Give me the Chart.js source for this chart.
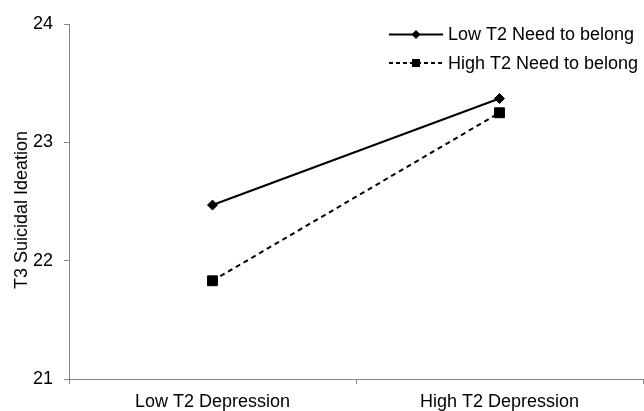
<!DOCTYPE html>
<html>
<head>
<meta charset="utf-8">
<script src="https://cdn.jsdelivr.net/npm/chart.js@4"></script>
<style>
  html, body { margin: 0; padding: 0; background: #fff; }
  #c { display: block; }
</style>
</head>
<body>
<canvas id="c" width="644" height="411"></canvas>
<script>
const categories = ["Low T2 Depression", "High T2 Depression"];
const lowBelong = [22.47, 23.37];
const highBelong = [21.83, 23.25];
const seriesLabels = ["Low T2 Need to belong", "High T2 Need to belong"];
const yTicks = [21, 22, 23, 24];
const yTitle = "T3 Suicidal Ideation";

const FONT = "'Liberation Sans', Arial, sans-serif";
const AXIS = "#868686";

const legendPlugin = {
  id: 'customLegend',
  afterDraw(chart) {
    const ctx = chart.ctx;
    const rows = [
      { y: 34.5, dash: [], marker: 'diamond', label: chart.data.datasets[0].label },
      { y: 63, dash: [4, 3], marker: 'square', label: chart.data.datasets[1].label }
    ];
    ctx.save();
    rows.forEach(r => {
      ctx.strokeStyle = '#000';
      ctx.lineWidth = 2;
      ctx.setLineDash(r.dash);
      ctx.beginPath();
      ctx.moveTo(389, r.y);
      ctx.lineTo(443, r.y);
      ctx.stroke();
      ctx.setLineDash([]);
      ctx.fillStyle = '#000';
      const cx = 416;
      if (r.marker === 'diamond') {
        ctx.beginPath();
        ctx.moveTo(cx - 4.5, r.y);
        ctx.lineTo(cx, r.y - 4.5);
        ctx.lineTo(cx + 4.5, r.y);
        ctx.lineTo(cx, r.y + 4.5);
        ctx.closePath();
        ctx.fill();
      } else {
        ctx.fillRect(cx - 4, r.y - 4, 8, 8);
      }
      ctx.font = "18px " + FONT;
      ctx.textBaseline = 'middle';
      ctx.textAlign = 'left';
      ctx.fillText(r.label, 448, r.y + 1);
    });
    // y-axis title
    ctx.translate(22, 210);
    ctx.rotate(-Math.PI / 2);
    ctx.font = "18px " + FONT;
    ctx.textAlign = 'center';
    ctx.textBaseline = 'middle';
    ctx.fillStyle = '#000';
    ctx.fillText(yTitle, 0, 0);
    ctx.restore();
  }
};

new Chart(document.getElementById('c'), {
  type: 'line',
  data: {
    labels: categories,
    datasets: [
      {
        label: seriesLabels[0],
        data: lowBelong,
        borderColor: '#000',
        backgroundColor: '#000',
        borderWidth: 2,
        pointStyle: 'rectRot',
        pointRadius: 5,
        pointBorderWidth: 1,
        pointBackgroundColor: '#000',
        pointBorderColor: '#000',
        tension: 0,
        fill: false
      },
      {
        label: seriesLabels[1],
        data: highBelong,
        borderColor: '#000',
        backgroundColor: '#000',
        borderWidth: 2,
        borderDash: [5, 4],
        pointStyle: 'rect',
        pointRadius: 7,
        pointBorderWidth: 1,
        pointBackgroundColor: '#000',
        pointBorderColor: '#000',
        tension: 0,
        fill: false
      }
    ]
  },
  options: {
    responsive: false,
    animation: false,
    devicePixelRatio: 1,
    layout: { autoPadding: false, padding: { top: 24, right: 1, left: 0, bottom: 0 } },
    plugins: {
      legend: { display: false },
      tooltip: { enabled: false },
      title: { display: false }
    },
    scales: {
      x: {
        type: 'category',
        offset: true,
        grid: {
          offset: true,
          drawOnChartArea: false,
          drawTicks: true,
          tickLength: 5,
          color: AXIS
        },
        border: { color: AXIS, width: 1 },
        ticks: {
          color: '#000',
          font: { family: FONT, size: 18 },
          padding: 7,
          maxRotation: 0
        },
        afterFit(scale) {
          scale.height = 32;
          scale.paddingLeft = 0;
          scale.paddingRight = 0;
        }
      },
      y: {
        min: 21,
        max: 24,
        afterBuildTicks(scale) { scale.ticks = yTicks.map(v => ({ value: v })); },
        grid: {
          drawOnChartArea: false,
          drawTicks: true,
          tickLength: 5,
          color: AXIS
        },
        border: { color: AXIS, width: 1 },
        ticks: {
          color: '#000',
          font: { family: FONT, size: 18 },
          padding: 11
        },
        title: { display: false },
        afterFit(scale) { scale.width = 69; }
      }
    }
  },
  plugins: [legendPlugin]
});
</script>
</body>
</html>
